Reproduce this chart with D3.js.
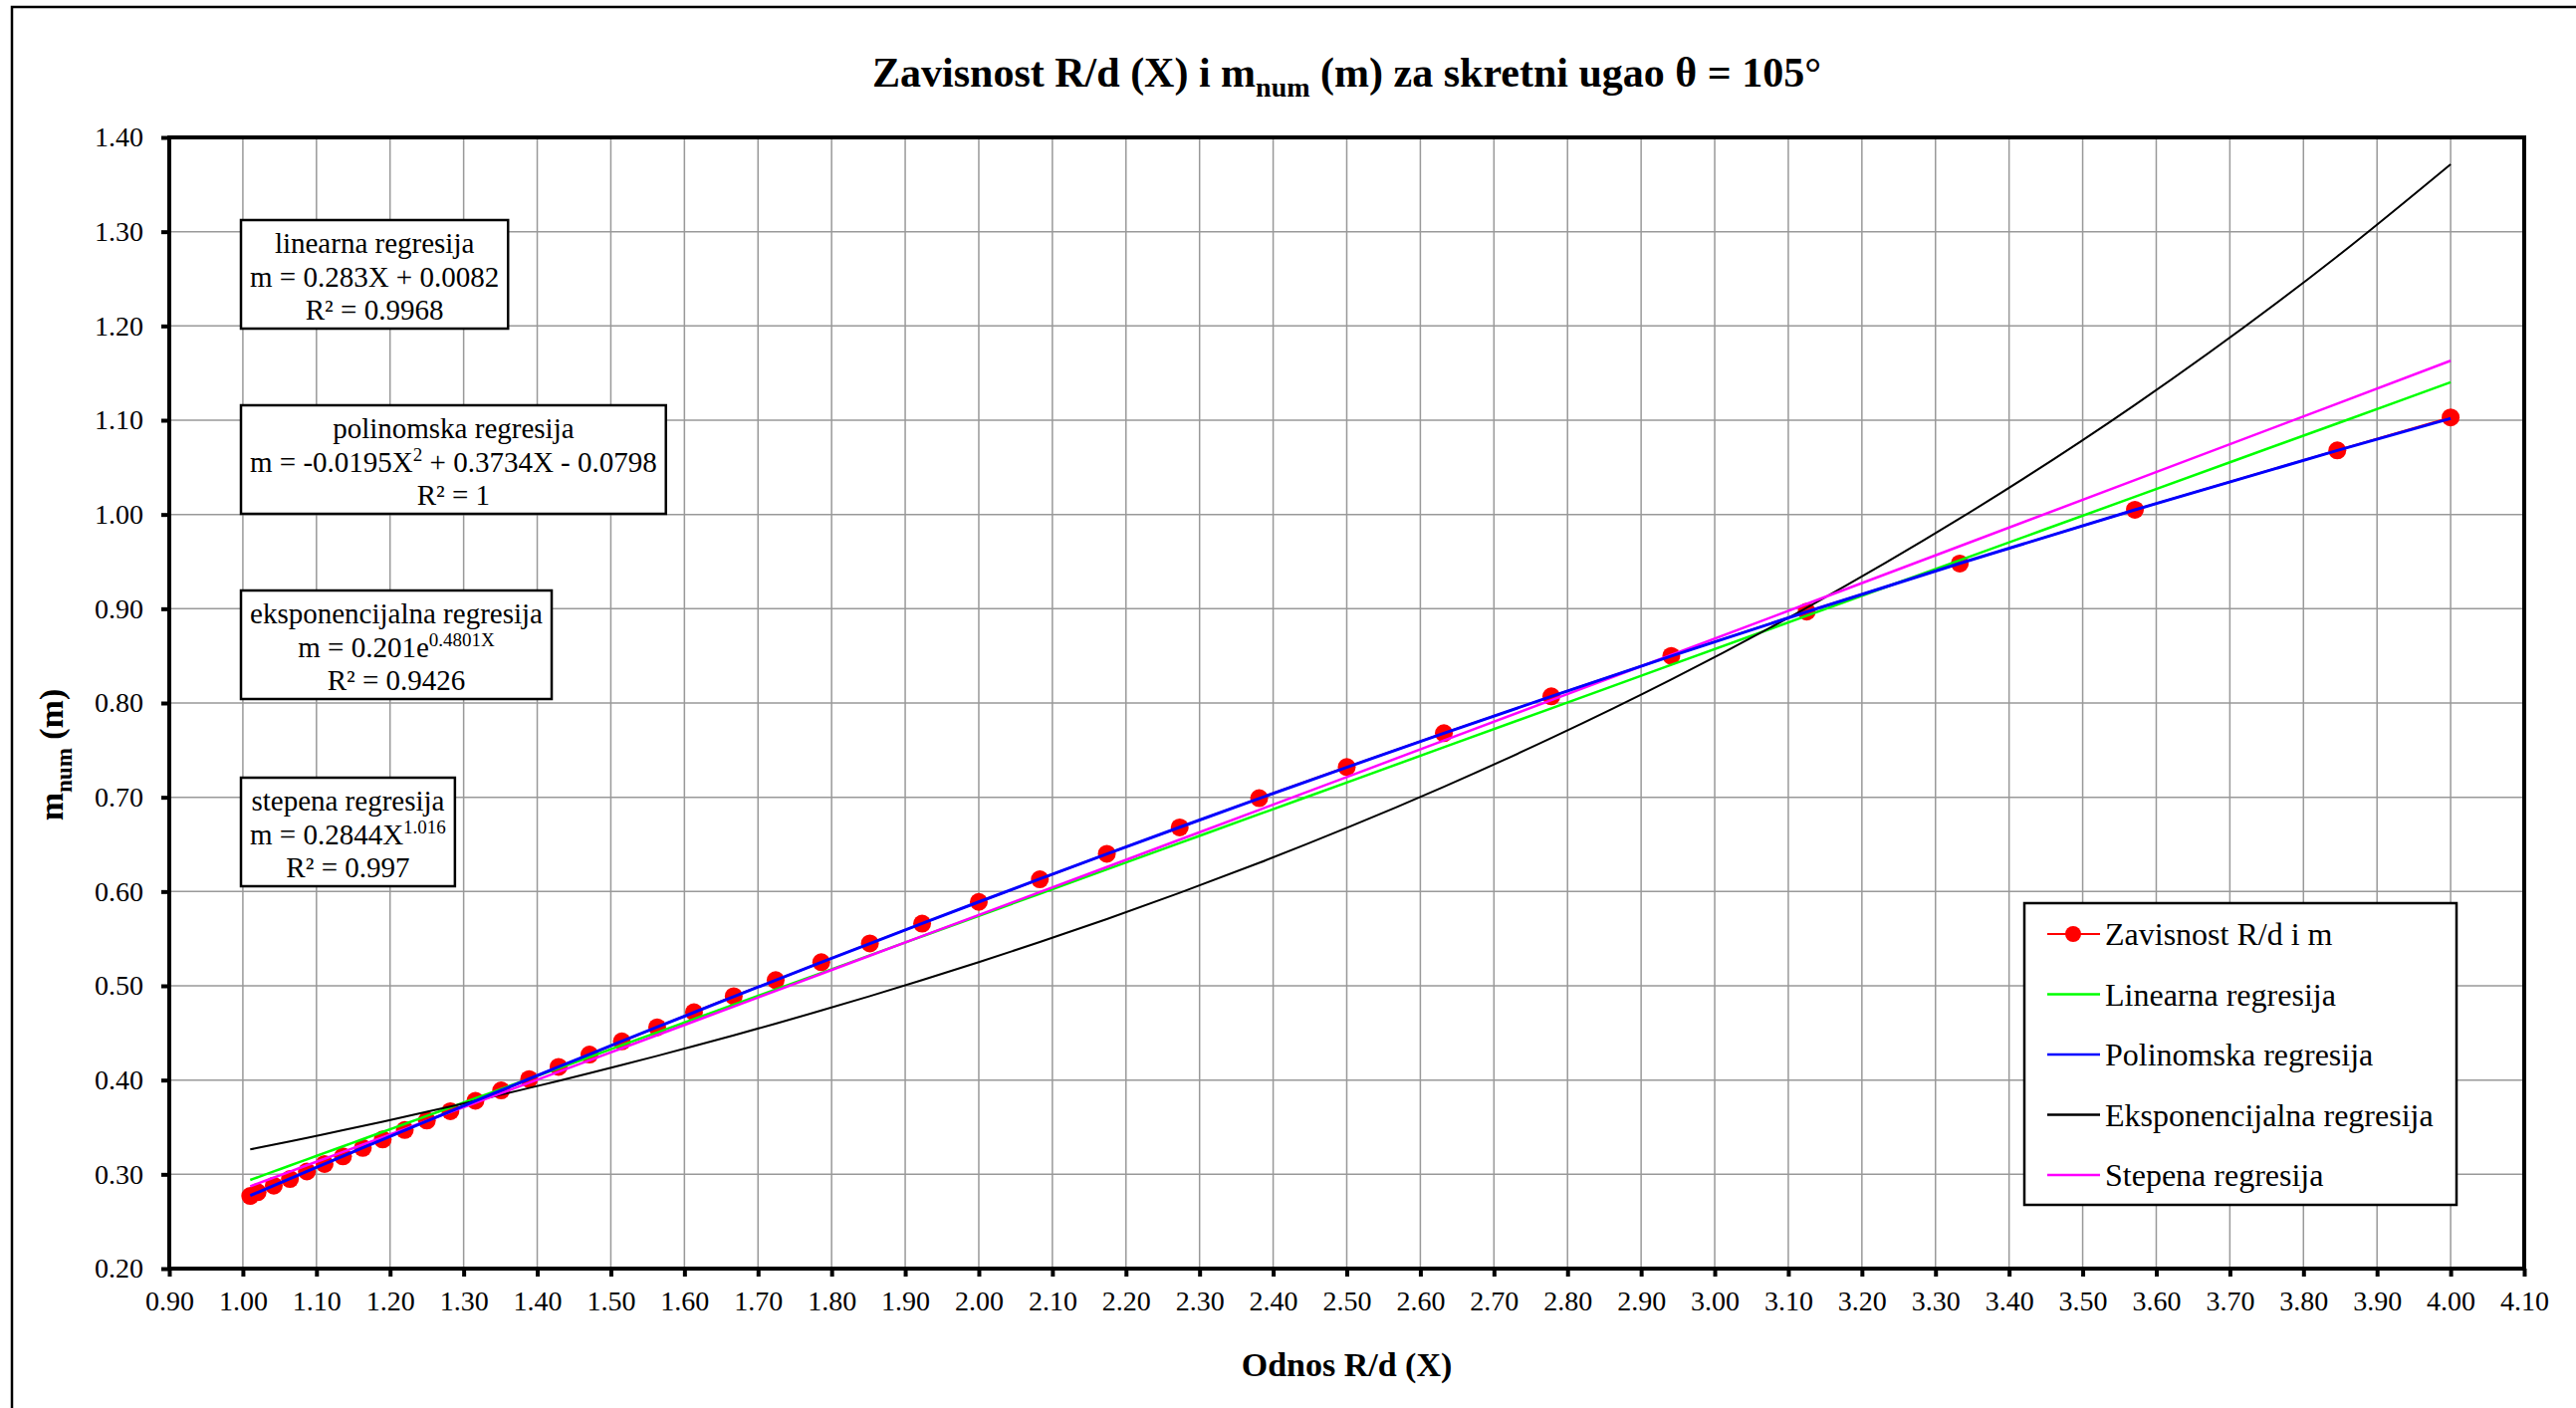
<!DOCTYPE html>
<html>
<head>
<meta charset="utf-8">
<script src="https://cdn.jsdelivr.net/npm/d3@7"></script>
<style>
  html, body { margin: 0; padding: 0; background: #fff; }
  svg { display: block; font-family: "Liberation Serif", "Times New Roman", serif; }
</style>
</head>
<body>
<svg id="chart" width="2587" height="1414"></svg>
<script>
// measured values R/d (X) and m_num
const ratioX = [1.010, 1.020, 1.042, 1.064, 1.087, 1.111, 1.136, 1.163, 1.190, 1.220,
  1.250, 1.282, 1.316, 1.351, 1.389, 1.429, 1.471, 1.515, 1.563, 1.613,
  1.667, 1.724, 1.786, 1.852, 1.923, 2.000, 2.083, 2.174, 2.273, 2.381,
  2.500, 2.632, 2.778, 2.941, 3.125, 3.333, 3.571, 3.846, 4.000];
const mNum = [0.277, 0.281, 0.288, 0.295, 0.303, 0.311, 0.319, 0.328, 0.337, 0.347,
  0.357, 0.367, 0.378, 0.389, 0.401, 0.414, 0.427, 0.441, 0.456, 0.472,
  0.489, 0.506, 0.525, 0.545, 0.566, 0.589, 0.613, 0.640, 0.668, 0.699,
  0.732, 0.768, 0.807, 0.850, 0.897, 0.948, 1.005, 1.068, 1.103];

// trendline coefficients as printed on the chart
const linCoef = [0.283, 0.0082];
const polyCoef = [-0.0195, 0.3734, -0.0798];
const expCoef = [0.201, 0.4801];
const powCoef = [0.2844, 1.016];

const xTicks = d3.range(9, 42).map((d) => d / 10);
const yTicks = d3.range(2, 15).map((d) => d / 10);

const legendLabels = ['Zavisnost R/d i m', 'Linearna regresija', 'Polinomska regresija',
  'Eksponencijalna regresija', 'Stepena regresija'];
const seriesColors = ['#ff0000', '#00ff00', '#0000ff', '#000000', '#ff00ff'];

const svg = d3.select('#chart');
const W = 2587, H = 1414;
const plot = { left: 170, right: 2535, top: 138, bottom: 1274 };

const x = d3.scaleLinear().domain([0.9, 4.1]).range([plot.left, plot.right]);
const y = d3.scaleLinear().domain([0.2, 1.4]).range([plot.bottom, plot.top]);

// outer chart border (left + top visible)
svg.append('path')
  .attr('d', `M12,${H} L12,7 L${W},7`)
  .attr('fill', 'none').attr('stroke', '#000').attr('stroke-width', 2.5);

// gridlines
const grid = svg.append('g').attr('stroke', '#999').attr('stroke-width', 1.5);
grid.selectAll('.gx').data(xTicks.filter((d) => d > 0.95 && d < 4.05)).join('line')
  .attr('x1', (d) => x(d)).attr('x2', (d) => x(d))
  .attr('y1', plot.top).attr('y2', plot.bottom);
grid.selectAll('.gy').data(yTicks.filter((d) => d > 0.25 && d < 1.35)).join('line')
  .attr('y1', (d) => y(d)).attr('y2', (d) => y(d))
  .attr('x1', plot.left).attr('x2', plot.right);

// axes
const fmt = d3.format('.2f');
const xAxis = svg.append('g').attr('transform', `translate(0,${plot.bottom})`)
  .call(d3.axisBottom(x).tickValues(xTicks).tickFormat(fmt).tickSize(8).tickPadding(14));
const yAxis = svg.append('g').attr('transform', `translate(${plot.left},0)`)
  .call(d3.axisLeft(y).tickValues(yTicks).tickFormat(fmt).tickSize(8).tickPadding(18));
[xAxis, yAxis].forEach((a) => {
  a.attr('font-family', null).attr('font-size', null);
  a.select('.domain').remove();
  a.selectAll('.tick line').attr('stroke', '#000').attr('stroke-width', 4);
  a.selectAll('.tick text').attr('font-size', 28).attr('fill', '#000');
});

svg.append('rect')
  .attr('x', plot.left).attr('y', plot.top)
  .attr('width', plot.right - plot.left).attr('height', plot.bottom - plot.top)
  .attr('fill', 'none').attr('stroke', '#000').attr('stroke-width', 4);

// series
const pts = ratioX.map((v, i) => [v, mNum[i]]);
const line = d3.line().x((d) => x(d[0])).y((d) => y(d[1])).curve(d3.curveMonotoneX);

const trends = [
  { color: seriesColors[1], w: 2.5, f: (t) => linCoef[0] * t + linCoef[1] },
  { color: seriesColors[3], w: 2, f: (t) => expCoef[0] * Math.exp(expCoef[1] * t) },
  { color: seriesColors[4], w: 2.5, f: (t) => powCoef[0] * Math.pow(t, powCoef[1]) },
  { color: seriesColors[2], w: 3, f: (t) => polyCoef[0] * t * t + polyCoef[1] * t + polyCoef[2] },
];

svg.append('path').datum(pts).attr('d', line)
  .attr('fill', 'none').attr('stroke', seriesColors[0]).attr('stroke-width', 2);
svg.append('g').selectAll('circle').data(pts).join('circle')
  .attr('cx', (d) => x(d[0])).attr('cy', (d) => y(d[1])).attr('r', 9)
  .attr('fill', seriesColors[0]);

trends.forEach((t) => {
  svg.append('path').datum(ratioX.map((v) => [v, t.f(v)])).attr('d', line)
    .attr('fill', 'none').attr('stroke', t.color).attr('stroke-width', t.w);
});

// equation boxes
const boxes = [
  { top: 221, lines: [[['linearna regresija']], [['m = 0.283X + 0.0082']], [['R² = 0.9968']]] },
  { top: 407, lines: [[['polinomska regresija']], [['m = -0.0195X'], ['2', 'sup'], [' + 0.3734X - 0.0798']], [['R² = 1']]] },
  { top: 593, lines: [[['eksponencijalna regresija']], [['m = 0.201e'], ['0.4801X', 'sup']], [['R² = 0.9426']]] },
  { top: 781, lines: [[['stepena regresija']], [['m = 0.2844X'], ['1.016', 'sup']], [['R² = 0.997']]] },
];
boxes.forEach((b) => {
  const g = svg.append('g');
  const rect = g.append('rect').attr('fill', '#fff').attr('stroke', '#000').attr('stroke-width', 2.5);
  const txt = g.append('text').attr('font-size', 29).attr('text-anchor', 'middle').attr('fill', '#000');
  b.lines.forEach((parts, i) => {
    const row = txt.append('tspan').attr('x', 0).attr('y', b.top + 33 + i * 33.5);
    let shift = 0;
    parts.forEach(([s, kind]) => {
      if (kind === 'sup') {
        row.append('tspan').attr('font-size', 19).attr('dy', -11).text(s);
        shift = 11;
      } else {
        row.append('tspan').attr('dy', shift || null).text(s);
        shift = 0;
      }
    });
  });
  const bb = txt.node().getBBox();
  const left = 242, pad = 9;
  const bw = bb.width + pad * 2;
  txt.attr('transform', `translate(${left + bw / 2},0)`);
  rect.attr('x', left).attr('y', b.top).attr('width', bw).attr('height', 109);
});

// legend
const lg = svg.append('g');
lg.append('rect').attr('x', 2033).attr('y', 907).attr('width', 434).attr('height', 303)
  .attr('fill', '#fff').attr('stroke', '#000').attr('stroke-width', 2.5);
legendLabels.forEach((lab, i) => {
  const ly = 938 + i * 60.5;
  lg.append('line').attr('x1', 2056).attr('x2', 2109).attr('y1', ly).attr('y2', ly)
    .attr('stroke', seriesColors[i]).attr('stroke-width', i === 0 ? 2 : 2.5);
  if (i === 0) lg.append('circle').attr('cx', 2082).attr('cy', ly).attr('r', 8).attr('fill', seriesColors[0]);
  lg.append('text').attr('x', 2114).attr('y', ly + 11).attr('font-size', 32).attr('fill', '#000').text(lab);
});

// title
const title = svg.append('text').attr('x', (plot.left + plot.right) / 2).attr('y', 87)
  .attr('text-anchor', 'middle').attr('font-size', 42).attr('font-weight', 'bold');
title.append('tspan').text('Zavisnost R/d (X) i m');
title.append('tspan').attr('font-size', 28).attr('dy', 10).text('num');
title.append('tspan').attr('dy', -10).text(' (m) za skretni ugao θ = 105°');

// axis titles
svg.append('text').attr('x', (plot.left + plot.right) / 2).attr('y', 1382)
  .attr('text-anchor', 'middle').attr('font-size', 34).attr('font-weight', 'bold')
  .text('Odnos R/d (X)');
const yl = svg.append('text').attr('transform', 'translate(63,758) rotate(-90)')
  .attr('text-anchor', 'middle').attr('font-size', 34).attr('font-weight', 'bold');
yl.append('tspan').text('m');
yl.append('tspan').attr('font-size', 23).attr('dy', 9).text('num');
yl.append('tspan').attr('dy', -9).text(' (m)');
</script>
</body>
</html>
